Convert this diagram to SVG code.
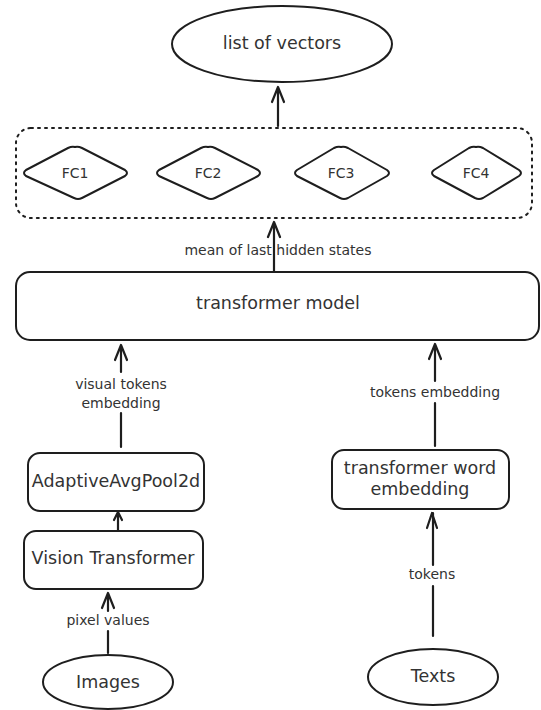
<svg xmlns="http://www.w3.org/2000/svg" width="541" height="710" viewBox="0 0 541 710">
<style>
.s{fill:#fff;stroke:#1e1e1e;stroke-width:2;stroke-linejoin:round}
.d{fill:none;stroke:#1e1e1e;stroke-width:2;stroke-dasharray:2 5;stroke-linecap:round}
.c{fill:none;stroke:#1e1e1e;stroke-width:2.2;stroke-linecap:round;stroke-linejoin:round}
text{font-family:"DejaVu Sans",sans-serif;fill:#333;text-anchor:middle;dominant-baseline:central}
.l{font-size:17.5px}
.m{font-size:14px}
</style>
<rect width="541" height="710" fill="#fff"/>
<g id="connectors">
<path class="c" d="M278 126V87M272 102L278 87L284 102"/>
<path class="c" d="M274 272V222M268 237L274 222L280 237"/>
<path class="c" d="M121 447V413M121 372V345M115 360L121 345L127 360"/>
<path class="c" d="M435 446V403M435 381V344M429 359L435 344L441 359"/>
<path class="c" d="M118 530V512M114 520L118 512L122 520"/>
<path class="c" d="M108 653V631M108 611V593M102 608L108 593L114 608"/>
<path class="c" d="M433 636V586M433 565V513M427 528L432 513L437 528"/>
<text class="m" x="278" y="250">mean of last hidden states</text>
<text class="m" x="121" y="384">visual tokens</text>
<text class="m" x="121" y="403">embedding</text>
<text class="m" x="435" y="392">tokens embedding</text>
<text class="m" x="108" y="620">pixel values</text>
<text class="m" x="432" y="574">tokens</text>
</g>
<g id="list-of-vectors">
<ellipse class="s" cx="282" cy="44" rx="110" ry="38"/>
<text class="l" x="282" y="43">list of vectors</text>
</g>
<g id="fc-group">
<rect class="d" x="16" y="128" width="516" height="90" rx="15"/>
</g>
<g id="fc1">
<path class="s" d="M75 147Q78 146 82 148L125 170Q129 173 125 176L82 198Q78 200 74 198L26 176Q22 173 26 170L68 148Q72 146 75 147Z"/>
<text class="m" x="75" y="173">FC1</text>
</g>
<g id="fc2">
<path class="s" d="M208 147Q211 146 215 148L258 170Q262 173 258 176L215 198Q211 200 207 198L159 176Q155 173 159 170L201 148Q205 146 208 147Z"/>
<text class="m" x="208" y="173">FC2</text>
</g>
<g id="fc3">
<path class="s" d="M341 147Q344 146 348 148L387 170Q391 173 387 176L348 198Q344 200 340 198L297 176Q293 173 297 170L334 148Q338 146 341 147Z"/>
<text class="m" x="341" y="173">FC3</text>
</g>
<g id="fc4">
<path class="s" d="M476 147Q479 146 483 148L519 170Q523 173 519 176L483 198Q479 200 475 198L434 176Q430 173 434 170L469 148Q473 146 476 147Z"/>
<text class="m" x="476" y="173">FC4</text>
</g>
<g id="transformer-model">
<rect class="s" x="16" y="272" width="523" height="68" rx="14"/>
<text class="l" x="278" y="303">transformer model</text>
</g>
<g id="adaptive-avg-pool">
<rect class="s" x="28" y="453" width="176" height="58" rx="12"/>
<text class="l" x="116" y="481">AdaptiveAvgPool2d</text>
</g>
<g id="vision-transformer">
<rect class="s" x="24" y="531" width="179" height="58" rx="12"/>
<text class="l" x="113" y="558">Vision Transformer</text>
</g>
<g id="images">
<ellipse class="s" cx="108" cy="682" rx="65" ry="27"/>
<text class="l" x="108" y="682">Images</text>
</g>
<g id="word-embedding">
<rect class="s" x="332" y="450" width="177" height="59" rx="12"/>
<text class="l" x="420" y="468">transformer word</text>
<text class="l" x="420" y="489">embedding</text>
</g>
<g id="texts">
<ellipse class="s" cx="433" cy="677" rx="65" ry="28"/>
<text class="l" x="433" y="676">Texts</text>
</g>
</svg>
